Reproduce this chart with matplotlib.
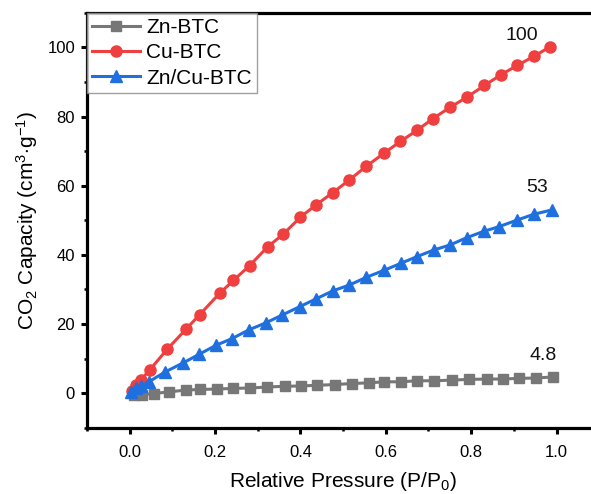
import matplotlib
matplotlib.use("Agg")
import matplotlib.pyplot as plt
from matplotlib.ticker import MultipleLocator

plt.rcParams['font.family'] = ['Liberation Sans', 'DejaVu Sans']
plt.rcParams['mathtext.fontset'] = 'custom'
plt.rcParams['mathtext.rm'] = 'Liberation Sans'
plt.rcParams['mathtext.it'] = 'Liberation Sans'

zn_x = [0.01, 0.03, 0.057, 0.092, 0.131, 0.166, 0.204, 0.243, 0.283, 0.322, 0.363, 0.402, 0.44, 0.48,
        0.52, 0.56, 0.597, 0.636, 0.673, 0.714, 0.755, 0.796, 0.838, 0.874, 0.912, 0.952, 0.991]
zn_y = [-0.6, -0.4, -0.1, 0.4, 0.9, 1.1, 1.2, 1.4, 1.5, 1.8, 2.0, 2.1, 2.3, 2.5,
        2.8, 3.0, 3.3, 3.3, 3.6, 3.6, 3.8, 4.0, 4.1, 4.1, 4.3, 4.4, 4.7]

cu_x = [0.005, 0.014, 0.026, 0.047, 0.088, 0.132, 0.164, 0.211, 0.243, 0.281, 0.324, 0.36, 0.40, 0.437,
        0.476, 0.515, 0.554, 0.597, 0.634, 0.673, 0.71, 0.751, 0.791, 0.831, 0.87, 0.908, 0.948, 0.985]
cu_y = [0.7, 2.3, 3.8, 6.7, 12.7, 18.5, 22.7, 28.9, 32.6, 36.9, 42.4, 46.0, 50.9, 54.5,
        58.0, 61.7, 65.6, 69.5, 72.8, 76.0, 79.4, 82.7, 85.7, 89.0, 92.1, 94.8, 97.5, 100.2]

zncu_x = [0.004, 0.014, 0.026, 0.045, 0.084, 0.126, 0.162, 0.203, 0.24, 0.279, 0.32, 0.357, 0.398, 0.437,
          0.476, 0.515, 0.554, 0.595, 0.636, 0.673, 0.712, 0.751, 0.79, 0.829, 0.866, 0.908, 0.948, 0.989]
zncu_y = [0.4, 1.4, 2.0, 3.3, 6.2, 8.8, 11.2, 13.9, 15.8, 18.3, 20.4, 22.6, 25.0, 27.3,
          29.6, 31.3, 33.5, 35.5, 37.6, 39.5, 41.4, 42.9, 45.0, 46.8, 48.2, 50.1, 51.8, 53.0]

labels = ['Zn-BTC', 'Cu-BTC', 'Zn/Cu-BTC']
annot_text = ['4.8', '100', '53']
annot_x = [0.968, 0.919, 0.954]
annot_y = [11, 103.5, 59.4]

fig = plt.figure(figsize=(5.91, 4.94), dpi=100)
ax = fig.add_axes([0.147, 0.134, 0.867, 0.84])

ax.plot(zn_x, zn_y, color='#777777', marker='s', ms=7, lw=2.2, label=labels[0])
ax.plot(cu_x, cu_y, color='#ef3f3f', marker='o', ms=8, lw=2.2, label=labels[1])
ax.plot(zncu_x, zncu_y, color='#1f6fdf', marker='^', ms=9, lw=2.2, label=labels[2])

for t, x, y in zip(annot_text, annot_x, annot_y):
    ax.text(x, y, t, fontsize=14, ha='center', va='center', color='#111111')

ax.set_xlim(-0.1, 1.1)
ax.set_ylim(-10, 110)
ax.xaxis.set_major_locator(MultipleLocator(0.2))
ax.xaxis.set_minor_locator(MultipleLocator(0.1))
ax.yaxis.set_major_locator(MultipleLocator(20))
ax.yaxis.set_minor_locator(MultipleLocator(10))
ax.set_xticks([0.0, 0.2, 0.4, 0.6, 0.8, 1.0])
ax.set_xticklabels(['0.0', '0.2', '0.4', '0.6', '0.8', '1.0'])
ax.set_yticks([0, 20, 40, 60, 80, 100])

ax.tick_params(which='major', direction='out', length=4.5, width=2.2, labelsize=12)
ax.tick_params(axis='x', which='major', pad=8)
ax.tick_params(axis='y', which='major', pad=4)
ax.tick_params(which='minor', direction='out', length=2.5, width=1.8)
for s in ['left', 'bottom', 'top']:
    ax.spines[s].set_linewidth(2.3)
ax.spines['right'].set_visible(False)

ax.set_xlabel('Relative Pressure (P/P$_0$)', fontsize=15, labelpad=7)
ax.set_ylabel('CO$_2$ Capacity (cm$^3$$\\cdot$g$^{-1}$)', fontsize=15, labelpad=5)

leg = ax.legend(loc='upper left', fontsize=15, frameon=True, fancybox=False,
                borderaxespad=0.0, handlelength=2.3, handletextpad=0.3,
                labelspacing=0.3, borderpad=0.25, edgecolor='#888888')
leg.get_frame().set_linewidth(1.0)

fig.savefig('out.png', dpi=100)
